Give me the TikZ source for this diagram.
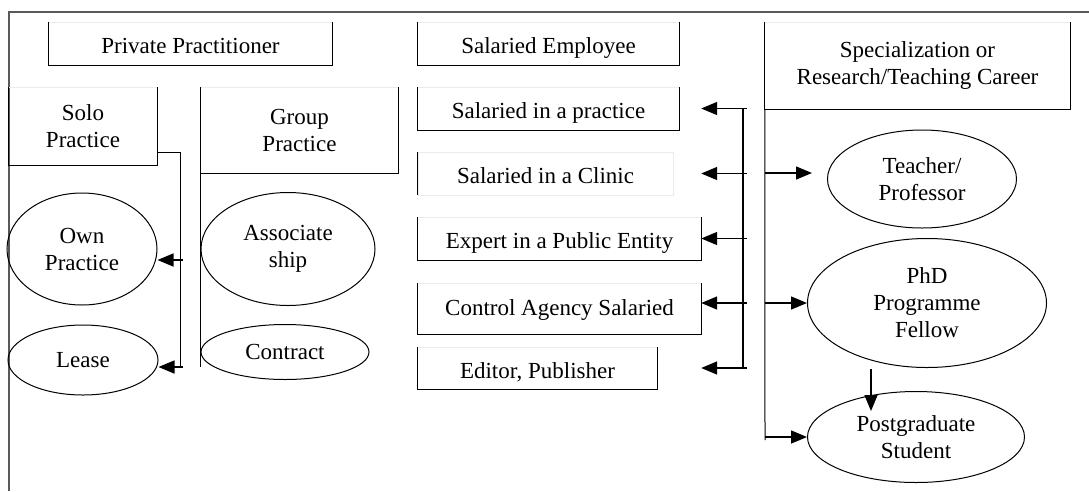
\documentclass[tikz,border=0pt]{standalone}
\usepackage{fontspec}
\setmainfont{Liberation Serif}
\usetikzlibrary{shapes.geometric,arrows.meta}

\tikzset{
    txt/.style = {font=\fontsize{23}{27}\selectfont, align=center},
    openbox/.style = {txt, inner sep=0pt, minimum height=43pt},
    onerow/.style = {text height=20pt, text depth=0pt},
    oval/.style = {txt, ellipse, draw, line width=1pt, inner sep=0pt},
    arr/.style = {-{Triangle[length=16pt,width=13pt]}, line width=1.5pt}
}
% three sides dark, top nearly white
\newcommand{\boxsides}[1]{%
    \draw[line width=1pt] (#1.north west) -- (#1.south west) -- (#1.south east) -- (#1.north east);
    \draw[black!8] (#1.north west) -- (#1.north east);}

\begin{document}
\begin{tikzpicture}[x=1pt, y=-1pt]
\useasboundingbox (0,0) rectangle (1089,491);
    \draw[black!65, line width=2pt] (9,491) -- (9,12) -- (1089,12);

    % private practitioner
    \node[openbox, onerow, minimum width=283pt] (priv) at (190.5,43.5) {Private Practitioner};
    \node[openbox, minimum width=148pt, minimum height=78pt] (solo) at (83,126) {Solo\\Practice};
    \node[openbox, minimum width=197pt, minimum height=86pt] (group) at (299.5,130) {Group\\Practice};
    \boxsides{priv}
    \boxsides{solo}
    \boxsides{group}
    \node[oval, minimum width=150pt, minimum height=112pt] (own) at (82,249) {Own\\Practice};
    \node[oval, minimum width=150pt, minimum height=70pt] (lease) at (83,360) {Lease};
    \node[oval, minimum width=174pt, minimum height=113pt] (assoc) at (288,249) {Associate\\ship};
    \node[oval, minimum width=168pt, minimum height=55pt] (contract) at (285,352) {Contract};

    \coordinate (sbend) at (180,152);
    \coordinate (send) at (180,367);
    \coordinate (sa) at (183,260);
    \coordinate (sb) at (183,367);
    \draw[line width=1pt] (solo.east |- sbend) -- (sbend) -- (send) -- (sb);
    \draw[arr] (sa) -- (own.east |- sa);
    \draw[arr] (sb) -- (lease.east |- sb);
    \draw[line width=1pt] (group.south west |- sbend) -- (group.south west |- send);

    % salaried employee
    \node[openbox, onerow, minimum width=261pt] (empl) at (548.5,43.5) {Salaried Employee};
    \node[openbox, onerow, minimum width=261pt] (practice) at (548.5,108.5) {Salaried in a practice};
    \node[openbox, onerow, minimum width=255pt] (clinic) at (545.5,173.5) {Salaried in a Clinic};
    \node[openbox, onerow, minimum width=283pt] (expert) at (559.5,238.5) {Expert in a Public Entity};
    \node[openbox, onerow, text height=13pt, minimum width=283pt, minimum height=51pt] (ctrl) at (559.5,308.5) {Control Agency Salaried};
    \node[openbox, onerow, minimum width=239pt, minimum height=42pt] (editor) at (537.5,368) {Editor, Publisher};
    \boxsides{empl}
    \boxsides{practice}
    \draw[line width=1pt] (clinic.north west) -- (clinic.south west) (clinic.north east) -- (clinic.south east);
    \draw[black!8] (clinic.north west) rectangle (clinic.south east);
    \boxsides{expert}
    \boxsides{ctrl}
    \boxsides{editor}

    \coordinate (mtop) at (743,108.5);
    \coordinate (mbot) at (743,368);
    \coordinate (mx) at (747,0);
    \coordinate (carr) at ([yshift=5.5pt]ctrl.east);
    \draw[line width=1.2pt] (mtop) -- (mbot);
    \foreach \n in {practice,clinic,expert,editor}
        \draw[arr] (mx |- \n) -- (expert.east |- \n);
    \draw[arr] (mx |- carr) -- (carr);

    % specialization
    \node[openbox, minimum width=305pt, minimum height=87pt] (spec) at (917.5,65.5) {Specialization or\\Research/Teaching Career};
    \boxsides{spec}
    \node[oval, minimum width=189pt, minimum height=98pt] (teacher) at (922,179) {Teacher/\\Professor};
    \node[oval, minimum width=239pt, minimum height=129pt] (phd) at (927,303) {PhD\\Programme\\Fellow};
    \node[oval, minimum width=217pt, minimum height=91pt] (post) at (916,437) {Postgraduate\\Student};

    \coordinate (rbot) at (765,440);
    \coordinate (tarr) at (812,173);
    \draw[line width=1pt] (spec.south west) -- (rbot);
    \draw[arr] (spec.south west |- tarr) -- (tarr);
    \draw[arr] (spec.south west |- phd) -- (phd.west);
    \draw[arr] (spec.south west |- post) -- (post.west);
    \coordinate (dtop) at (871,369);
    \coordinate (dbot) at (871,411);
    \draw[arr] (dtop) -- (dbot);
\end{tikzpicture}
\end{document}
